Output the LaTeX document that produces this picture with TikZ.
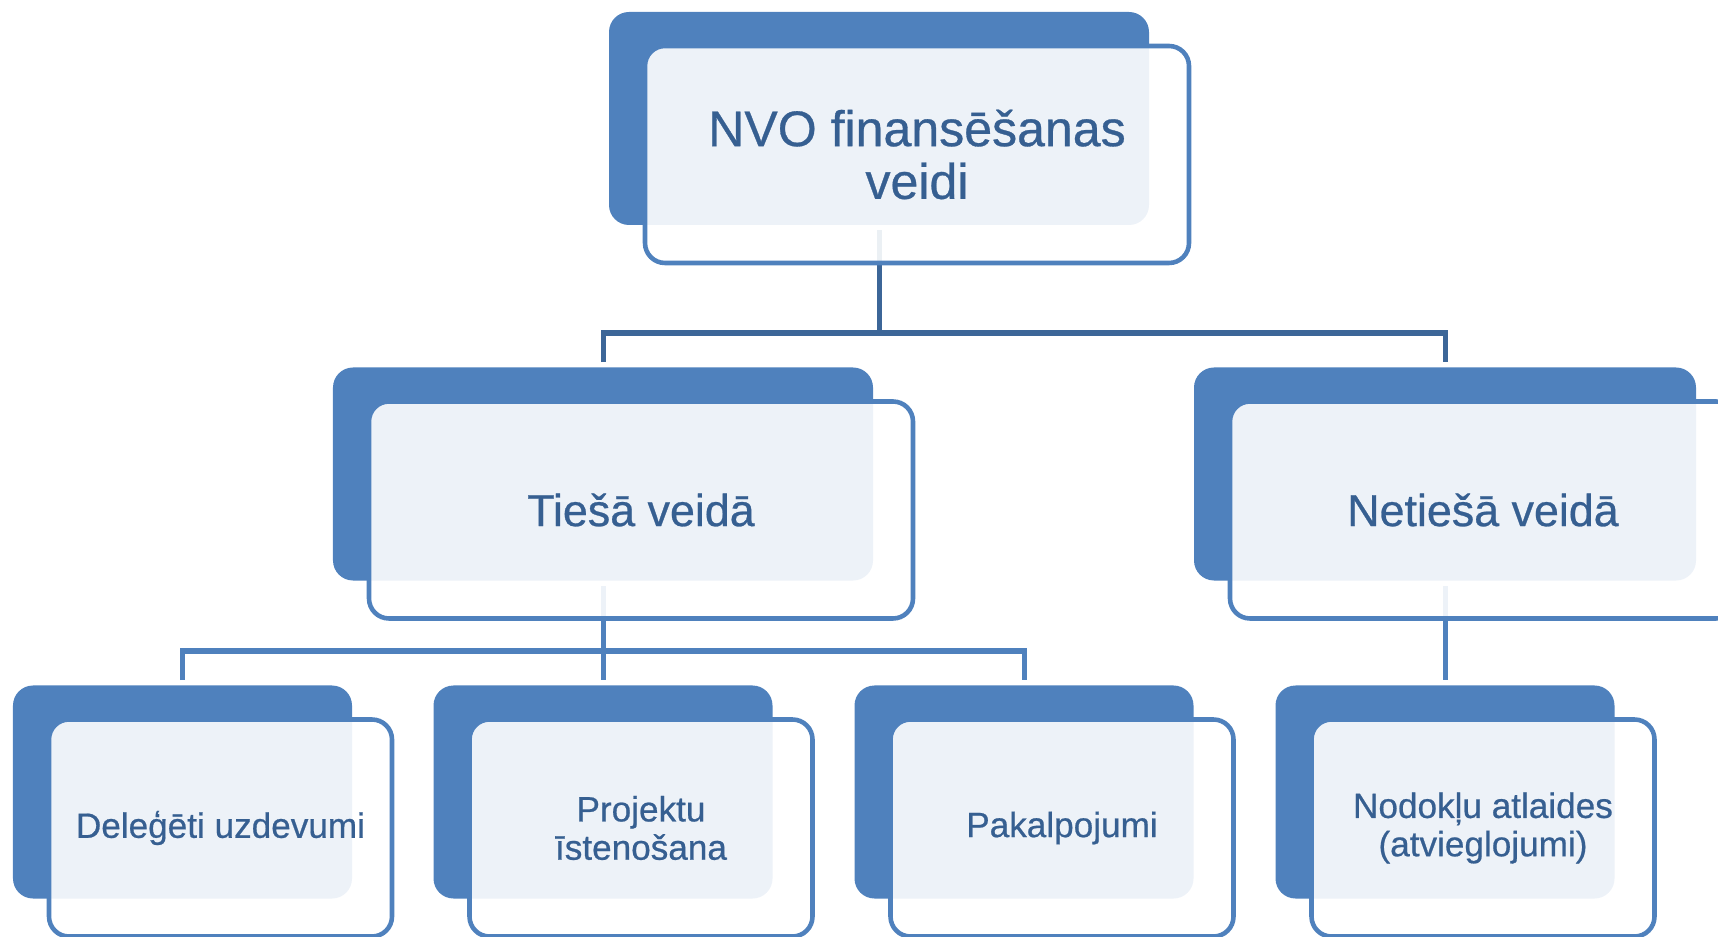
\documentclass[tikz,border=0pt]{standalone}
\usepackage{fontspec}
\setmainfont{Liberation Sans}
\newfontfamily\boxfont[FakeBold=0.6]{Liberation Sans}
\definecolor{boxblue}{HTML}{4F81BD}
\definecolor{linedark}{HTML}{3C6698}
\definecolor{textblue}{HTML}{365F91}
\pgfdeclarelayer{bg}
\pgfsetlayers{bg,main}
\tikzset{
    backbox/.style={fill=boxblue, rounded corners=4mm, inner sep=0pt, minimum height=42.6mm},
    frontbox/.style={draw=boxblue, line width=2.6pt, fill=white, fill opacity=0.9, text opacity=1,
        rounded corners=4mm, inner sep=0pt, minimum height=43.4mm, align=center, text=textblue},
    topfont/.style={font=\boxfont\fontsize{28.5}{30}\selectfont},
    midfont/.style={font=\boxfont\fontsize{25.5}{27}\selectfont},
    lowfont/.style={font=\boxfont\fontsize{20}{21.8}\selectfont},
    conntop/.style={draw=linedark, line width=2.85pt},
    connlow/.style={draw=boxblue, line width=2.85pt}
}
\begin{document}
\begin{tikzpicture}[x=0.2mm, y=-0.2mm]
            \useasboundingbox (0,0) rectangle (1718,937);
            \clip (0,0) rectangle (1718,937);

            % top
            \node[backbox, minimum width=108mm] (topb) at (879,118.5) {};
            \node[frontbox, topfont, minimum width=108.8mm] (top) at (917,154.5) {NVO finansēšanas\\veidi};

            % second row
            \node[backbox, minimum width=108mm] (directb) at (603,474) {};
            \node[frontbox, midfont, minimum width=108.8mm] (direct) at (641,510) {Tiešā veidā};
            \node[backbox, minimum width=100.4mm] (indirectb) at (1445,474) {};
            \node[frontbox, midfont, minimum width=101.2mm] (indirect) at (1483,510) {Netiešā veidā};

            % third row
            \foreach \x/\nm/\txt in {182.5/deleg/{Deleģēti uzdevumi}, 603/proj/{Projektu\\īstenošana},
                                     1024/pak/{Pakalpojumi}, 1445/nodok/{Nodokļu atlaides\\(atvieglojumi)}} {
                \node[backbox, minimum width=67.8mm] (\nm b) at (\x,792) {};
                \node[frontbox, lowfont, minimum width=68.6mm] (\nm) at (\x+38,828) {\txt};
            }

            \coordinate (split1) at (879,333);
            \coordinate (split2) at (603,651);

            \begin{pgfonlayer}{bg}
                \draw[conntop, shorten <=1mm] (topb.south) -- (split1);
                \draw[conntop, shorten <=1mm, shorten >=1mm] (directb.north) |- (split1) -| (indirectb.north);

                \draw[connlow, shorten <=1mm] (directb.south) -- (split2);
                \draw[connlow, shorten <=1mm, shorten >=1mm] (delegb.north) |- (split2) -| (pakb.north);
                \draw[connlow, shorten >=1mm] (split2) -- (projb.north);
                \draw[connlow, shorten <=1mm, shorten >=1mm] (indirectb.south) -- (nodokb.north);
            \end{pgfonlayer}
        \end{tikzpicture}
\end{document}
